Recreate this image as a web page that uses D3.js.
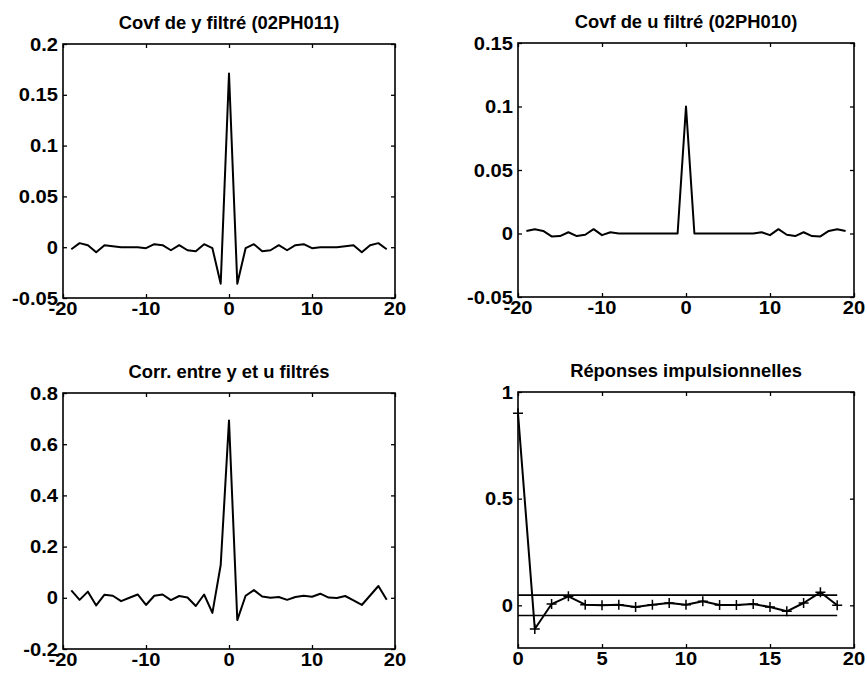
<!DOCTYPE html>
<html>
<head>
<meta charset="utf-8">
<script src="https://cdn.jsdelivr.net/npm/d3@7"></script>
<style>
    body { margin: 0; background: #fff; }
    svg { display: block; }
</style>
</head>
<body>
<div id="chart"></div>
<script>
// Lags for the correlation panels
const lags = d3.range(-19, 20);
// Lags for the impulse response
const steps = d3.range(0, 20);

// Covf de y filtré (02PH011)
const covY = [-0.002, 0.004, 0.002, -0.005, 0.002, 0.001, 0, 0, 0, -0.001,
    0.003, 0.002, -0.003, 0.002, -0.003, -0.004, 0.003, -0.001, -0.036,
    0.171,
    -0.036, -0.001, 0.003, -0.004, -0.003, 0.002, -0.003, 0.002, 0.003, -0.001,
    0, 0, 0, 0.001, 0.002, -0.005, 0.002, 0.004, -0.002];

// Covf de u filtré (02PH010)
const covU = [0.002, 0.0034, 0.002, -0.0023, -0.002, 0.001, -0.002, -0.001, 0.0034, -0.0013,
    0.001, 0, 0, 0, 0, 0, 0, 0, 0,
    0.1,
    0, 0, 0, 0, 0, 0, 0, 0, 0.001, -0.0013,
    0.0034, -0.001, -0.002, 0.001, -0.002, -0.0023, 0.002, 0.0034, 0.002];

// Corr. entre y et u filtrés
const corrYU = [0.029, -0.008, 0.024, -0.030, 0.012, 0.008, -0.013, 0, 0.013, -0.028,
    0.008, 0.013, -0.009, 0.007, 0.001, -0.032, 0.013, -0.059, 0.128,
    0.693,
    -0.087, 0.008, 0.030, 0.005, 0, 0.003, -0.008, 0.003, 0.008, 0.004,
    0.016, 0.001, -0.001, 0.007, -0.010, -0.028, 0.009, 0.046, -0.008];

// Réponses impulsionnelles
const impulse = [0.9, -0.111, 0.006, 0.042, 0.003, 0, 0.003, -0.008, 0.003, 0.011,
    0.003, 0.019, 0.002, 0.002, 0.006, -0.008, -0.028, 0.011, 0.061, 0];
const confBound = 0.048;

// Titles and tick values
const titles = ['Covf de y filtré (02PH011)', 'Covf de u filtré (02PH010)',
    'Corr. entre y et u filtrés', 'Réponses impulsionnelles'];
const lagTicks = [-20, -10, 0, 10, 20];
const stepTicks = [0, 5, 10, 15, 20];
const yTicks1 = [-0.05, 0, 0.05, 0.1, 0.15, 0.2];
const yTicks2 = [-0.05, 0, 0.05, 0.1, 0.15];
const yTicks3 = [-0.2, 0, 0.2, 0.4, 0.6, 0.8];
const yTicks4 = [0, 0.5, 1];

const W = 867, H = 676;
const FONT = '"Liberation Sans", Arial, Helvetica, sans-serif';

const svg = d3.select('#chart').append('svg')
    .attr('width', W)
    .attr('height', H);
svg.append('rect').attr('width', W).attr('height', H).attr('fill', '#fff');

// Text helper, scaled horizontally around its anchor (the scan is a bit wide)
function label(g, x, y, txt, anchor, size, sx) {
    return g.append('text')
        .attr('transform', `translate(${x},${y}) scale(${sx},1)`)
        .attr('text-anchor', anchor)
        .attr('font-family', FONT)
        .attr('font-weight', 'bold')
        .attr('font-size', size)
        .attr('fill', '#000')
        .text(txt);
}

/**
 * @function drawPanel
 */
function drawPanel(p) {
    const g = svg.append('g')
        .attr('transform', `translate(${p.left},${p.top})`);
    const w = p.right - p.left, h = p.bottom - p.top;

    const x = d3.scaleLinear().domain(p.xDomain).range([0, w]);
    const y = d3.scaleLinear().domain(p.yDomain).range([h, 0]);

    // Inside ticks on all four sides
    const tick = 4;
    const axes = [
        [d3.axisBottom(x).tickValues(p.xTicks), `translate(0,${h})`],
        [d3.axisTop(x).tickValues(p.xTicks), 'translate(0,0)'],
        [d3.axisLeft(y).tickValues(p.yTicks), 'translate(0,0)'],
        [d3.axisRight(y).tickValues(p.yTicks), `translate(${w},0)`]
    ];
    axes.forEach(([ax, tr]) => {
        const a = g.append('g')
            .attr('transform', tr)
            .call(ax.tickSize(-tick).tickFormat(''));
        a.select('.domain').remove();
        a.selectAll('line').attr('stroke', '#000').attr('stroke-width', 1.3);
    });

    // Box
    g.append('rect')
        .attr('width', w)
        .attr('height', h)
        .attr('fill', 'none')
        .attr('stroke', '#000')
        .attr('stroke-width', 1.6);

    // Tick labels
    p.xTicks.forEach(v => label(g, x(v), h + 17, String(v), 'middle', 18, 1.12));
    p.yTicks.forEach(v => label(g, -5, y(v) + 6.5, String(v), 'end', 18, 1.12));

    // Title
    label(g, w / 2, -15, p.title, 'middle', 17.5, 1.05);

    // Extra horizontal lines (confidence bounds)
    (p.hlines || []).forEach(v => {
        g.append('line')
            .attr('x1', x(p.hlineRange[0])).attr('x2', x(p.hlineRange[1]))
            .attr('y1', y(v)).attr('y2', y(v))
            .attr('stroke', '#000')
            .attr('stroke-width', 1.6);
    });

    // Data line
    const line = d3.line()
        .x((d, i) => x(p.xs[i]))
        .y(d => y(d));
    g.append('path')
        .datum(p.values)
        .attr('d', line)
        .attr('fill', 'none')
        .attr('stroke', '#000')
        .attr('stroke-width', 2)
        .attr('stroke-linejoin', 'round');

    // '+' markers
    if (p.markers) {
        const m = 5;
        g.append('g').selectAll('path')
            .data(p.values)
            .join('path')
            .attr('d', (d, i) => {
                const cx = x(p.xs[i]), cy = y(d);
                return `M${cx - m},${cy}H${cx + m}M${cx},${cy - m}V${cy + m}`;
            })
            .attr('stroke', '#000')
            .attr('stroke-width', 1.5);
    }
}

drawPanel({
    left: 63, right: 395, top: 44, bottom: 298,
    xDomain: [-20, 20], yDomain: [-0.05, 0.2],
    xTicks: lagTicks, yTicks: yTicks1,
    xs: lags, values: covY, title: titles[0]
});
drawPanel({
    left: 518, right: 854, top: 43, bottom: 297,
    xDomain: [-20, 20], yDomain: [-0.05, 0.15],
    xTicks: lagTicks, yTicks: yTicks2,
    xs: lags, values: covU, title: titles[1]
});
drawPanel({
    left: 63, right: 395, top: 393, bottom: 649,
    xDomain: [-20, 20], yDomain: [-0.2, 0.8],
    xTicks: lagTicks, yTicks: yTicks3,
    xs: lags, values: corrYU, title: titles[2]
});
drawPanel({
    left: 518, right: 854, top: 392, bottom: 648,
    xDomain: [0, 20], yDomain: [-0.2, 1],
    xTicks: stepTicks, yTicks: yTicks4,
    xs: steps, values: impulse, title: titles[3],
    markers: true,
    hlines: [confBound, -confBound], hlineRange: [0, 19]
});
</script>
</body>
</html>
